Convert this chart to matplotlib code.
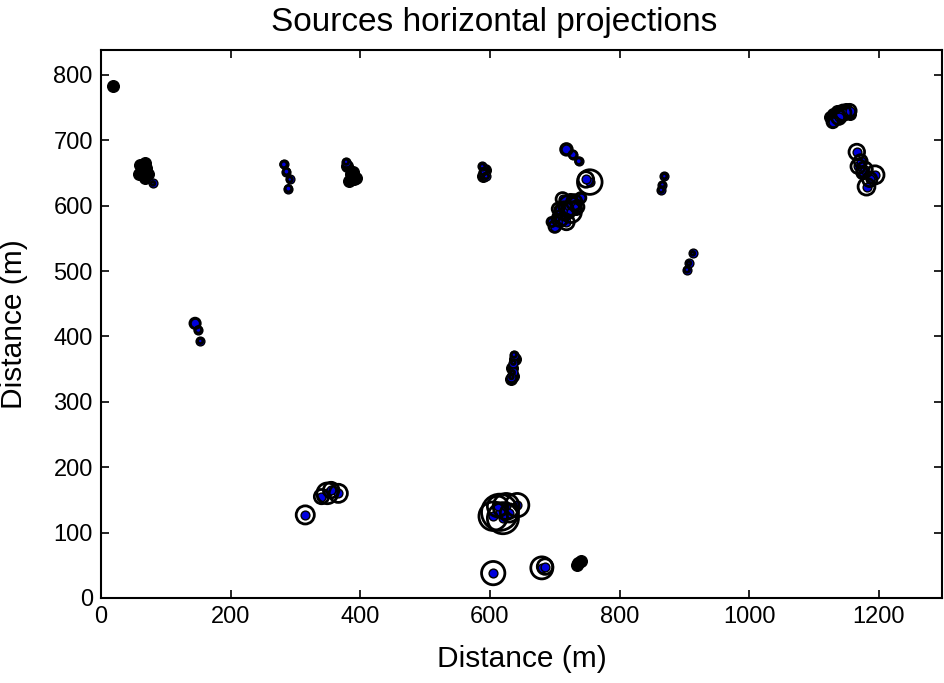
import numpy as np
import matplotlib
matplotlib.use('Agg')
import matplotlib.pyplot as plt

plt.rcParams['font.family'] = ['Liberation Sans', 'DejaVu Sans']

# located sources (blue dots) with uncertainty ring radius in metres
blue_x = [282, 286, 291, 289,
          718, 728, 737, 754, 748,
          700, 708, 715, 722, 730, 712, 725, 735, 705, 718, 740, 695,
          869, 866, 864, 913, 907, 904,
          1129, 1145, 1155, 1138,
          1166, 1168, 1175, 1194, 1181, 1186, 1172, 1178,
          145, 150, 153,
          637, 636, 635, 633,
          315, 349, 366, 355, 340,
          615, 642, 625, 605, 630, 612, 620,
          605, 680, 685,
          80, 378, 590, 594, 588]
blue_y = [663, 652, 640, 626,
          686, 678, 668, 636, 640,
          568, 580, 592, 600, 605, 610, 590, 598, 595, 575, 612, 575,
          645, 632, 624, 527, 512, 502,
          728, 742, 745, 735,
          682, 660, 650, 647, 629, 640, 668, 655,
          420, 410, 393,
          372, 360, 345, 338,
          127, 160, 160, 165, 155,
          131, 142, 140, 125, 130, 140, 122,
          38, 46, 48,
          634, 667, 652, 645, 660]
ring_r = [5, 5, 4, 5,
          9, 6, 5, 19, 12,
          9, 12, 14, 16, 12, 10, 16, 10, 9, 12, 8, 7,
          4, 4, 4, 3, 3, 4,
          9, 12, 10, 11,
          12, 11, 9, 14, 13, 11, 10, 12,
          8, 5, 4,
          4, 3, 3, 3,
          14, 16, 14, 12, 11,
          28, 18, 20, 22, 14, 16, 24,
          18, 17, 12,
          3, 4, 5, 4, 4]

# sources with no horizontal projection estimate (black)
black_x = [18,
           60, 63, 67, 70, 65, 58, 72, 68,
           380, 385, 390, 383, 388, 393,
           592, 590,
           1130, 1140, 1150, 1135, 1142, 1125, 1148, 1155,
           634, 636, 632, 638,
           736, 740, 734,
           712, 720, 705, 728, 716, 724, 708, 732, 702, 726]
black_y = [783,
           662, 650, 643, 657, 655, 648, 648, 665,
           660, 648, 640, 637, 652, 643,
           655, 645,
           740, 735, 748, 745, 738, 735, 742, 740,
           352, 340, 335, 365,
           53, 56, 50,
           595, 588, 580, 600, 605, 610, 585, 595, 575, 602]

fig = plt.figure(figsize=(9.45, 6.83), dpi=100)
ax = fig.add_axes([0.107, 0.1245, 0.8895, 0.8023])

xmax, ymax = 1297, 838
ax.set_xlim(0, xmax)
ax.set_ylim(0, ymax)

# ring size in points from metres
pt_per_m = 0.8895 * 9.45 * 72 / xmax
ring_s = (2 * np.array(ring_r) * pt_per_m) ** 2

ax.scatter(black_x, black_y, s=70, c='black', edgecolors='black', zorder=2)
ax.scatter(blue_x, blue_y, s=40, c='#0000dd', edgecolors='black',
           linewidths=1.0, zorder=3)
ax.scatter(blue_x, blue_y, s=ring_s, facecolors='none', edgecolors='black',
           linewidths=2.0, zorder=4)

ax.set_xticks(range(0, 1201, 200))
ax.set_yticks(range(0, 801, 100))
ax.tick_params(direction='in', length=6, width=1.2, top=True, right=True,
               labelsize=17, pad=6)
for sp in ax.spines.values():
    sp.set_linewidth(1.5)

ax.set_xlabel('Distance (m)', fontsize=21.5, labelpad=12)
ax.set_ylabel('Distance (m)', fontsize=21.5, labelpad=18)
ax.set_title('Sources horizontal projections', fontsize=24, x=0.468, pad=14)

fig.savefig('out.png', dpi=100)
